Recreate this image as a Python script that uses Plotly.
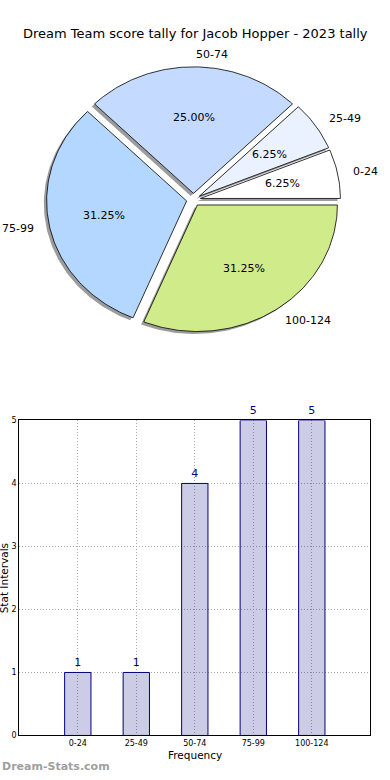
import numpy as np
import plotly.graph_objects as go

# ---- data ----
categories = ["0-24", "25-49", "50-74", "75-99", "100-124"]
counts = [1, 1, 4, 5, 5]
pie_colors = ["#ffffff", "#eaf1ff", "#c4daff", "#b4d7ff", "#cfeb8a"]
title_text = "Dream Team score tally for Jacob Hopper - 2023 tally"

W, H = 390, 780
FONT = "DejaVu Sans"

def px_x(p):
    return p / W

def px_y(p):
    return 1 - p / H

fig = go.Figure()

# ---- pie drawn as wedges on a hidden cartesian axes (matplotlib style, non-equal aspect) ----
total = float(sum(counts))
explode = 0.05
shadow_off = -0.02
fracs = [c / total for c in counts]

wedges = []
theta = 0.0
for cat, f, col in zip(categories, fracs, pie_colors):
    t1 = theta
    t2 = theta + f * 2 * np.pi
    mid = 0.5 * (t1 + t2)
    cx, cy = explode * np.cos(mid), explode * np.sin(mid)
    ang = np.linspace(t1, t2, max(8, int(f * 360)))
    xs = np.concatenate([[cx], cx + np.cos(ang), [cx]])
    ys = np.concatenate([[cy], cy + np.sin(ang), [cy]])
    wedges.append((cat, f, col, mid, cx, cy, xs, ys))
    theta = t2

# shadows first (below every wedge)
for cat, f, col, mid, cx, cy, xs, ys in wedges:
    fig.add_trace(go.Scatter(x=xs + shadow_off, y=ys + shadow_off, mode="lines",
                             fill="toself", fillcolor="rgba(90,90,90,0.6)",
                             line=dict(width=0), hoverinfo="skip", showlegend=False,
                             xaxis="x", yaxis="y"))
for cat, f, col, mid, cx, cy, xs, ys in wedges:
    fig.add_trace(go.Scatter(x=xs, y=ys, mode="lines", fill="toself", fillcolor=col,
                             line=dict(color="#000000", width=0.8), name=cat,
                             hoverinfo="name", showlegend=False, xaxis="x", yaxis="y"))

annotations = []
for cat, f, col, mid, cx, cy, xs, ys in wedges:
    xt = cx + 1.1 * np.cos(mid)
    yt = cy + 1.1 * np.sin(mid)
    annotations.append(dict(x=xt, y=yt, xref="x", yref="y", text=cat, showarrow=False,
                            xanchor="left" if xt > 0 else "right", yanchor="middle",
                            font=dict(family=FONT, size=11, color="#000")))
    xp = cx + 0.6 * np.cos(mid)
    yp = cy + 0.6 * np.sin(mid)
    annotations.append(dict(x=xp, y=yp, xref="x", yref="y", text="%.2f%%" % (f * 100),
                            showarrow=False, xanchor="center", yanchor="middle",
                            font=dict(family=FONT, size=11, color="#000")))

# ---- bar chart ----
fig.add_trace(go.Bar(x=categories, y=counts, width=0.45,
                     marker=dict(color="rgba(0,0,128,0.2)",
                                 line=dict(color="#000080", width=1)),
                     text=[str(c) for c in counts], textposition="outside",
                     textfont=dict(family=FONT, size=11, color="#00008b"),
                     cliponaxis=False, showlegend=False, xaxis="x2", yaxis="y2"))

# pie axes geometry: center (193.5,198) px, 140 px/unit in x, 128 px/unit in y
cxp, cyp, sx, sy = 193.5, 198.0, 140.0, 128.0
pie_top, pie_bot = 0.0, 390.0
xr = [-cxp / sx, (W - cxp) / sx]
yr = [(cyp - pie_bot) / sy, (cyp - pie_top) / sy]

# bar axes geometry
bl, br, bt, bb = 19.3, 370.3, 421.3, 740.0

annotations += [
    dict(text=title_text, x=px_x(195), y=px_y(30), xref="paper", yref="paper",
         showarrow=False, xanchor="center", yanchor="middle",
         font=dict(family=FONT, size=13, color="#000")),
    dict(text="Frequency", x=px_x(194.5), y=px_y(760), xref="paper", yref="paper",
         showarrow=False, xanchor="center", yanchor="middle",
         font=dict(family=FONT, size=10.5, color="#000")),
    dict(text="Stat Intervals", x=px_x(4), y=px_y(581), xref="paper", yref="paper",
         showarrow=False, xanchor="center", yanchor="middle", textangle=-90,
         font=dict(family=FONT, size=10.5, color="#000")),
    dict(text="<b>Dream-Stats.com</b>", x=px_x(0), y=px_y(771), xref="paper", yref="paper",
         showarrow=False, xanchor="left", yanchor="middle",
         font=dict(family=FONT, size=11, color="#a0a0a0")),
]

grid_style = dict(showgrid=True, gridcolor="#a8a8a8", griddash="1px,2px", gridwidth=1)

fig.update_layout(
    width=W, height=H, margin=dict(l=0, r=0, t=0, b=0),
    paper_bgcolor="white", plot_bgcolor="rgba(0,0,0,0)",
    xaxis=dict(domain=[0, 1], range=xr, visible=False, fixedrange=True),
    yaxis=dict(domain=[1 - pie_bot / H, 1 - pie_top / H], range=yr, visible=False, fixedrange=True),
    xaxis2=dict(domain=[bl / W, br / W], anchor="y2", range=[-1, 5], type="category",
                showline=True, linecolor="#000", linewidth=1, mirror=True,
                ticks="", tickfont=dict(family=FONT, size=8, color="#000"), zeroline=False,
                **grid_style),
    yaxis2=dict(domain=[1 - bb / H, 1 - bt / H], anchor="x2", range=[0, 5],
                tickvals=[0, 1, 2, 3, 4, 5],
                showline=True, linecolor="#000", linewidth=1, mirror=True,
                ticks="", tickfont=dict(family=FONT, size=8, color="#000"), zeroline=False,
                **grid_style),
    annotations=annotations,
)

css_js = (
    "var s=document.createElement('style');"
    "s.innerHTML='html,body{margin:0;padding:0;overflow:hidden;width:390px;height:780px;}';"
    "document.head.appendChild(s);"
)

fig.write_html("out.html", config={"displayModeBar": False}, post_script=css_js)
